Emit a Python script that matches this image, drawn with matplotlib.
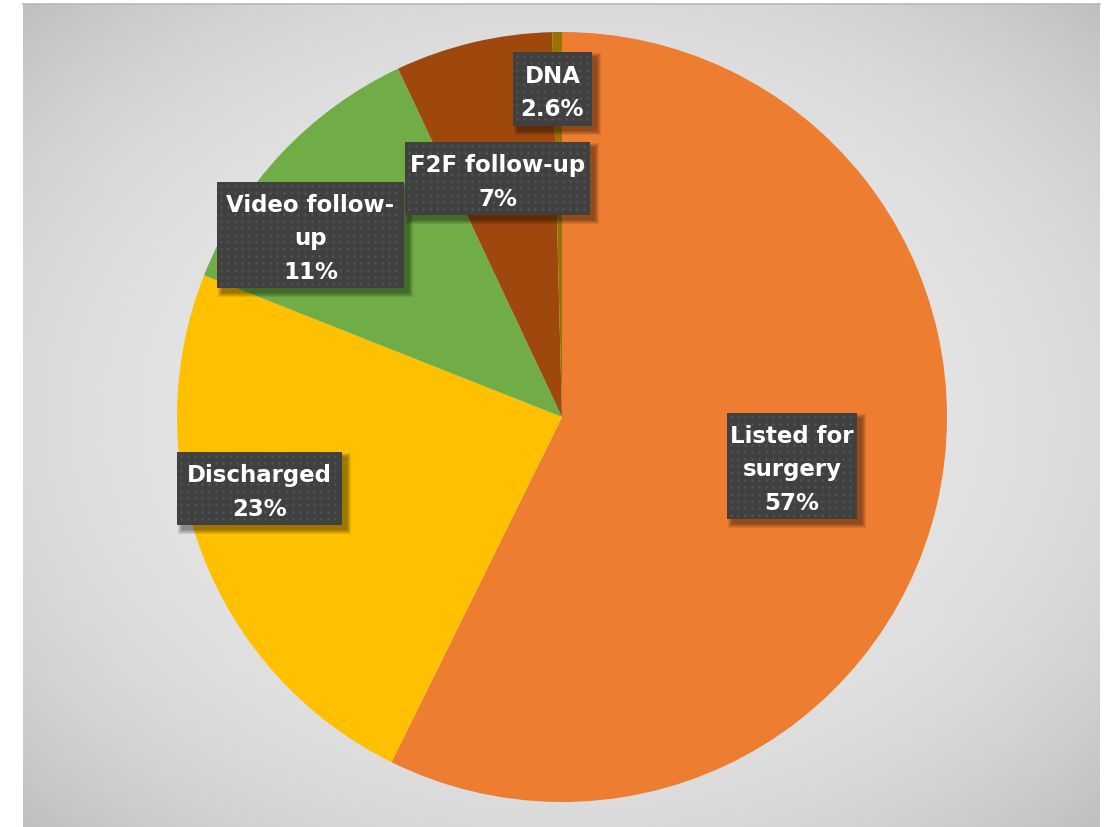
import matplotlib.pyplot as plt
import numpy as np
from matplotlib.patches import Rectangle

# slice shares as drawn (clockwise from 12 o'clock)
categories = ["Listed for surgery", "Discharged", "Video follow-up", "F2F follow-up", "DNA"]
shares = [57.3, 23.7, 12.0, 6.6, 0.4]
label_texts = ["Listed for\nsurgery\n57%", "Discharged\n23%", "Video follow-\nup\n11%",
               "F2F follow-up\n7%", "DNA\n2.6%"]
colors = ["#ED7D31", "#FFC000", "#70AD47", "#9E480E", "#997300"]

# label boxes in pixels (left, top, right, bottom), image origin top-left
label_boxes = [
    (727, 414, 857, 520),
    (177, 453, 342, 526),
    (217, 183, 404, 289),
    (405, 143, 590, 216),
    (513, 53, 592, 127),
]

W, H = 1115, 828
fig = plt.figure(figsize=(W / 100, H / 100), dpi=100)
fig.patch.set_facecolor("white")


def fx(x):
    return x / W


def fy(y):
    return 1 - y / H


# gradient background
bg_left, bg_top, bg_right, bg_bottom = 23, 5, 1100, 828
bg = fig.add_axes([fx(bg_left), fy(bg_bottom), (bg_right - bg_left) / W, (bg_bottom - bg_top) / H])
bg.set_axis_off()
gx = np.linspace(-1, 1, 540)
gy = np.linspace(-1, 1, 420)
XX, YY = np.meshgrid(gx, gy)
rr = np.sqrt((XX ** 2 + YY ** 2) / 2)
val = 0.91 - 0.16 * rr ** 3
img = np.dstack([val, val, val])
bg.imshow(img, extent=[0, 1, 0, 1], aspect="auto", interpolation="bilinear")
bg.set_xlim(0, 1)
bg.set_ylim(0, 1)
fig.add_artist(plt.Line2D([fx(bg_left), fx(bg_right)], [fy(bg_top), fy(bg_top)],
                          transform=fig.transFigure, color="#b8b8b8", lw=1.2))

# pie
cx, cy, rad = 562, 418, 385
ax = fig.add_axes([fx(cx - rad), fy(cy + rad), 2 * rad / W, 2 * rad / H])
ax.pie(shares, colors=colors, startangle=90, counterclock=False,
       wedgeprops=dict(linewidth=0, antialiased=True))
ax.set_xlim(-1, 1)
ax.set_ylim(-1, 1)
ax.set_axis_off()

# labels with dark dotted boxes and soft shadow
for text, (l, t, r, b) in zip(label_texts, label_boxes):
    for grow in [4, 3, 2, 1, 0]:
        fig.add_artist(Rectangle((fx(l + 5 - grow), fy(b + 5 + grow)),
                                 (r - l + 2 * grow) / W, (b - t + 2 * grow) / H,
                                 transform=fig.transFigure, facecolor="black",
                                 edgecolor="none", alpha=0.09))
    fig.add_artist(Rectangle((fx(l), fy(b)), (r - l) / W, (b - t) / H,
                             transform=fig.transFigure, facecolor="#404040", edgecolor="none"))
    xs = np.arange(l + 4, r - 1, 7)
    ys = np.arange(t + 4, b - 1, 7)
    DX, DY = np.meshgrid(xs, ys)
    fig.add_artist(plt.Line2D(fx(DX.ravel()), fy(DY.ravel()), transform=fig.transFigure,
                              linestyle="none", marker="s", markersize=1.8,
                              markerfacecolor="#585858", markeredgecolor="none"))
    fig.text(fx((l + r) / 2), fy((t + b) / 2 + 3), text, ha="center", va="center",
             color="white", fontsize=16.5, fontweight="bold", family="DejaVu Sans",
             linespacing=1.6)

fig.savefig("out.png", dpi=100)
